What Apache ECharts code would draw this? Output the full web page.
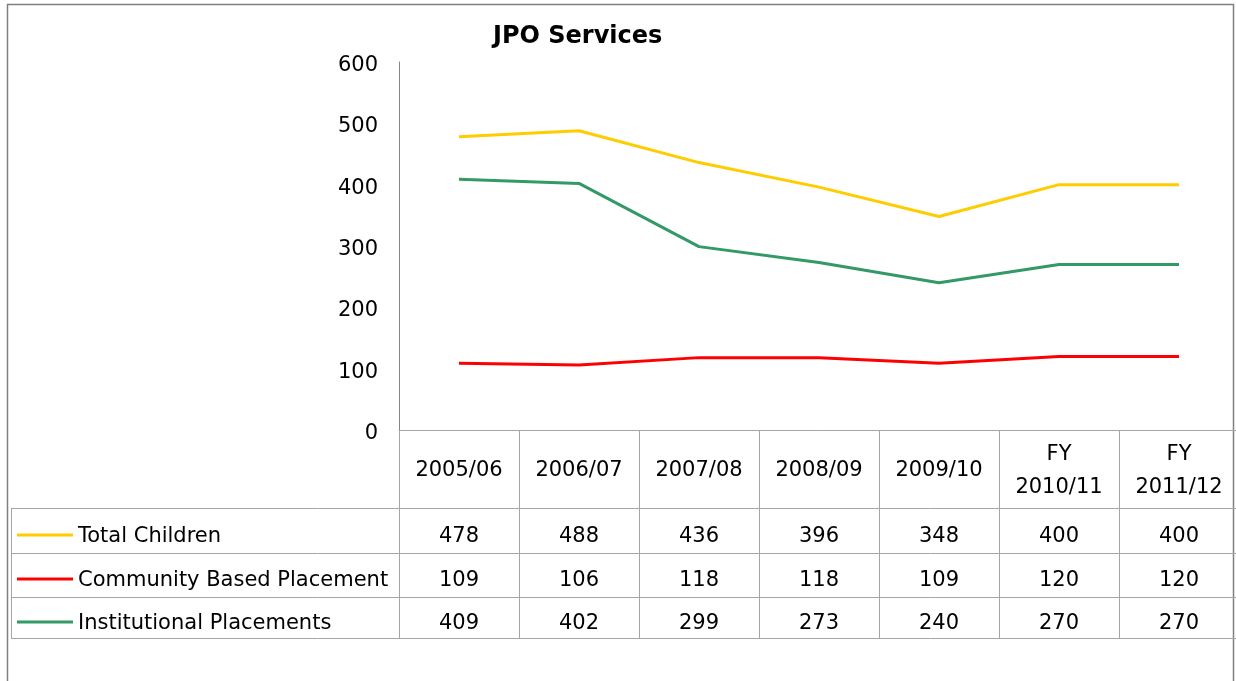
<!DOCTYPE html>
<html>
<head>
<meta charset="utf-8">
<title>JPO Services</title>
<script src="https://cdn.jsdelivr.net/npm/echarts@6/dist/echarts.min.js"></script>
<style>
  html, body { margin: 0; padding: 0; background: #fff; }
  #container { width: 1236px; height: 681px; }
</style>
</head>
<body>
<div id="container"></div>
<script>
// data
var years = ['2005/06', '2006/07', '2007/08', '2008/09', '2009/10', 'FY\n2010/11', 'FY\n2011/12'];
var totalChildren = [478, 488, 436, 396, 348, 400, 400];
var communityBased = [109, 106, 118, 118, 109, 120, 120];
var institutional = [409, 402, 299, 273, 240, 270, 270];
var seriesNames = ['Total Children', 'Community Based Placement', 'Institutional Placements'];
var seriesColors = ['#ffcc00', '#ff0000', '#339966'];

var font = '"DejaVu Sans", sans-serif';
var rows = [totalChildren, communityBased, institutional];
var rowCenters = [534, 578, 621];
var rowLines = [508, 553, 597, 638];
var tableColor = '#a6a6a6';

var chart = echarts.init(document.getElementById('container'));

var series = [];
for (var s = 0; s < rows.length; s++) {
    series.push({
        name: seriesNames[s],
        type: 'line',
        data: rows[s],
        symbol: 'none',
        lineStyle: { color: seriesColors[s], width: 3 },
        itemStyle: { color: seriesColors[s] }
    });
}

chart.setOption({
    animation: false,
    title: {
        text: 'JPO Services',
        left: 488,
        top: 20,
        textStyle: { fontFamily: font, fontSize: 24, fontWeight: 'bold', color: '#000' }
    },
    grid: { left: 399, top: 62, width: 840, height: 368, outerBoundsMode: 'none' },
    xAxis: {
        type: 'category',
        data: years,
        boundaryGap: true,
        axisLine: { show: true, lineStyle: { color: tableColor, width: 1 } },
        axisTick: { show: true, interval: 0, length: 208, lineStyle: { color: tableColor, width: 1 } },
        axisLabel: {
            interval: 0, margin: 41, verticalAlign: 'middle', lineHeight: 33,
            fontFamily: font, fontSize: 21, color: '#000'
        },
        splitLine: { show: false }
    },
    yAxis: {
        type: 'value',
        min: 0, max: 600, interval: 100,
        axisLine: { show: true, lineStyle: { color: '#868686', width: 1 } },
        axisTick: { show: false },
        splitLine: { show: false },
        axisLabel: {
            margin: 21, formatter: '{v|{value}}',
            rich: { v: { padding: [7, 0, 0, 0], fontFamily: font, fontSize: 21, color: '#000' } }
        }
    },
    series: series
});

// data table below the axis
var graphics = [];
graphics.push({
    type: 'rect', silent: true,
    shape: { x: 7.5, y: 4.5, width: 1226, height: 700 },
    style: { fill: null, stroke: '#808080', lineWidth: 1.5 }
});
for (var r = 0; r < rowLines.length; r++) {
    graphics.push({
        type: 'line', silent: true,
        shape: { x1: 11, y1: rowLines[r] + 0.5, x2: 1239, y2: rowLines[r] + 0.5 },
        style: { stroke: tableColor, lineWidth: 1 }
    });
}
graphics.push({
    type: 'line', silent: true,
    shape: { x1: 11.5, y1: rowLines[0], x2: 11.5, y2: rowLines[3] },
    style: { stroke: tableColor, lineWidth: 1 }
});
for (var i = 0; i < rows.length; i++) {
    graphics.push({
        type: 'line', silent: true,
        shape: { x1: 17, y1: rowCenters[i] + 1, x2: 73, y2: rowCenters[i] + 1 },
        style: { stroke: seriesColors[i], lineWidth: 3 }
    });
    graphics.push({
        type: 'text', silent: true, x: 78, y: rowCenters[i] + 3,
        style: { text: seriesNames[i], font: '21px ' + font, fill: '#000', verticalAlign: 'middle' }
    });
    for (var c = 0; c < years.length; c++) {
        var px = chart.convertToPixel({ xAxisIndex: 0 }, c);
        graphics.push({
            type: 'text', silent: true, x: px, y: rowCenters[i] + 3,
            style: { text: String(rows[i][c]), font: '21px ' + font, fill: '#000', align: 'center', verticalAlign: 'middle' }
        });
    }
}
chart.setOption({ graphic: graphics });
</script>
</body>
</html>
